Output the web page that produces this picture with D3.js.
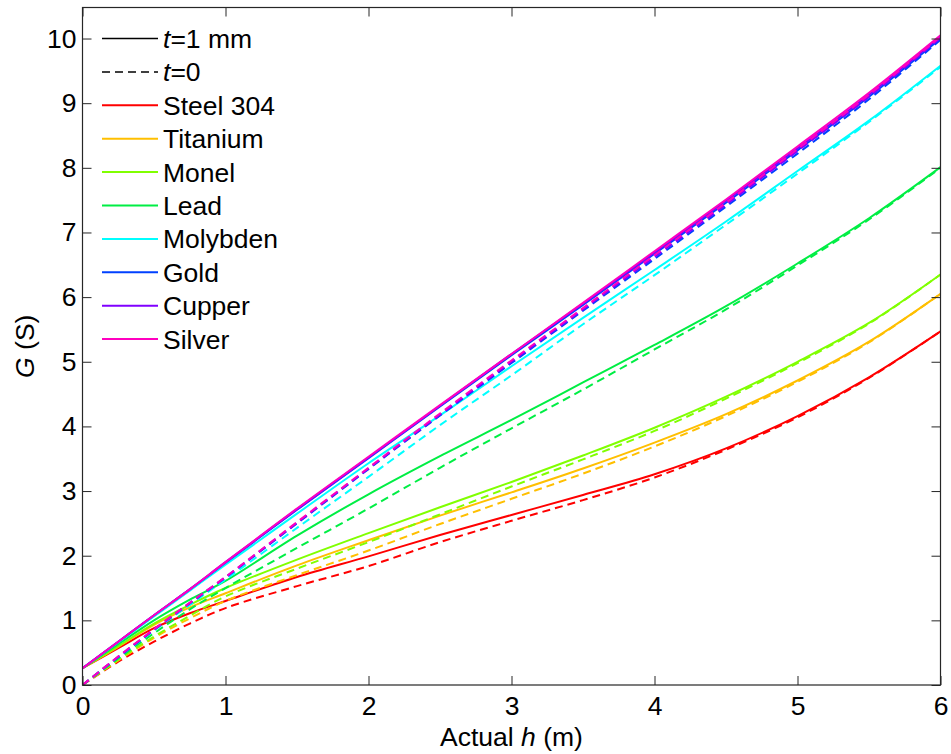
<!DOCTYPE html>
<html>
<head>
  <title>G vs actual h</title>
  <script src="https://d3js.org/d3.v7.min.js"></script>
</head>
<style>
  body { margin: 0; background: #fff; }
  text { font-family: Arial, "Liberation Sans", sans-serif; fill: #000; }
</style>
<body>
  <script>
    const hVals = [0, 0.25, 0.5, 0.75, 1, 1.5, 2, 2.5, 3, 3.5, 4, 4.5, 5, 5.5, 6];

    const materials = ["Steel 304", "Titanium", "Monel", "Lead", "Molybden", "Gold", "Cupper", "Silver"];
    const colors = ["#ff0000", "#ffbf00", "#80ff00", "#00ee44", "#00ffff", "#0040ff", "#8000ff", "#ff00bf"];

    // t = 1 mm (solid)
    const steelSolid   = [0.26, 0.57, 0.88, 1.11, 1.30, 1.67, 1.99, 2.32, 2.63, 2.94, 3.26, 3.66, 4.16, 4.76, 5.47];
    const titanSolid   = [0.26, 0.59, 0.93, 1.20, 1.42, 1.85, 2.24, 2.62, 2.98, 3.35, 3.75, 4.19, 4.71, 5.31, 6.05];
    const monelSolid   = [0.26, 0.60, 0.95, 1.24, 1.50, 1.94, 2.35, 2.75, 3.14, 3.55, 3.98, 4.46, 5.00, 5.60, 6.35];
    const leadSolid    = [0.26, 0.63, 1.00, 1.32, 1.61, 2.31, 2.95, 3.54, 4.10, 4.68, 5.26, 5.86, 6.52, 7.22, 8.01];
    const molySolid    = [0.26, 0.66, 1.06, 1.46, 1.86, 2.65, 3.43, 4.17, 4.93, 5.68, 6.42, 7.17, 7.95, 8.73, 9.58];
    const goldSolid    = [0.26, 0.67, 1.08, 1.48, 1.89, 2.71, 3.51, 4.31, 5.10, 5.88, 6.67, 7.46, 8.27, 9.10, 10.00];
    const cupperSolid  = [0.26, 0.67, 1.08, 1.48, 1.90, 2.72, 3.52, 4.32, 5.12, 5.90, 6.69, 7.49, 8.30, 9.13, 10.03];
    const silverSolid  = [0.26, 0.67, 1.08, 1.48, 1.90, 2.73, 3.53, 4.33, 5.12, 5.91, 6.71, 7.51, 8.33, 9.16, 10.05];

    // t = 0 (dashed)
    const steelDash    = [0, 0.36, 0.67, 0.95, 1.19, 1.53, 1.84, 2.21, 2.54, 2.86, 3.21, 3.64, 4.14, 4.75, 5.47];
    const titanDash    = [0, 0.38, 0.73, 1.03, 1.30, 1.70, 2.08, 2.49, 2.88, 3.27, 3.69, 4.16, 4.69, 5.30, 6.05];
    const monelDash    = [0, 0.39, 0.75, 1.07, 1.37, 1.80, 2.21, 2.64, 3.07, 3.49, 3.93, 4.43, 4.98, 5.59, 6.35];
    const leadDash     = [0, 0.41, 0.80, 1.17, 1.50, 2.12, 2.73, 3.36, 3.97, 4.57, 5.19, 5.81, 6.49, 7.20, 8.00];
    const molyDash     = [0, 0.43, 0.84, 1.24, 1.63, 2.43, 3.22, 4.02, 4.79, 5.58, 6.34, 7.12, 7.91, 8.71, 9.56];
    const goldDash     = [0, 0.43, 0.85, 1.26, 1.66, 2.50, 3.34, 4.17, 4.98, 5.79, 6.59, 7.40, 8.22, 9.06, 9.98];
    const cupperDash   = [0, 0.44, 0.86, 1.27, 1.67, 2.51, 3.35, 4.18, 5.00, 5.81, 6.62, 7.43, 8.26, 9.10, 10.01];
    const silverDash   = [0, 0.44, 0.86, 1.27, 1.67, 2.52, 3.36, 4.20, 5.02, 5.83, 6.65, 7.46, 8.29, 9.13, 10.03];

    const solids = [steelSolid, titanSolid, monelSolid, leadSolid, molySolid, goldSolid, cupperSolid, silverSolid];
    const dashes = [steelDash, titanDash, monelDash, leadDash, molyDash, goldDash, cupperDash, silverDash];

    const xTicks = [0, 1, 2, 3, 4, 5, 6];
    const yTicks = [0, 1, 2, 3, 4, 5, 6, 7, 8, 9, 10];

    const W = 951, H = 754;
    const L = 82.5, R = 940.5, T = 7.5, B = 685;
    const fs = 26.5;

    const svg = d3.select("body").append("svg")
      .attr("width", W)
      .attr("height", H);

    const x = d3.scaleLinear().domain([0, 6]).range([L, R]);
    const y = d3.scaleLinear().domain([0, 10.48]).range([B, T]);

    const line = d3.line()
      .x((d, i) => x(hVals[i]))
      .y(d => y(d))
      .curve(d3.curveCatmullRom.alpha(0.5));

    // curves: dashed + solid for each material, in legend order
    const g = svg.append("g");
    materials.forEach((m, k) => {
      g.append("path")
        .attr("d", line(dashes[k]))
        .attr("fill", "none")
        .attr("stroke", colors[k])
        .attr("stroke-width", 2)
        .attr("stroke-dasharray", "8,5");
      g.append("path")
        .attr("d", line(solids[k]))
        .attr("fill", "none")
        .attr("stroke", colors[k])
        .attr("stroke-width", 2);
    });

    // axes, ticks inward on all sides
    const axCol = "#262626";
    const tl = 9;
    svg.append("g").attr("transform", `translate(0,${B})`)
      .call(d3.axisBottom(x).tickValues(xTicks).tickSize(-tl).tickPadding(11).tickFormat(d3.format("d")))
      .call(a => a.select(".domain").remove());
    svg.append("g").attr("transform", `translate(0,${T})`)
      .call(d3.axisTop(x).tickValues(xTicks).tickSize(-tl).tickFormat(""))
      .call(a => a.select(".domain").remove());
    svg.append("g").attr("transform", `translate(${L},0)`)
      .call(d3.axisLeft(y).tickValues(yTicks).tickSize(-tl).tickPadding(6).tickFormat(d3.format("d")))
      .call(a => a.select(".domain").remove());
    svg.append("g").attr("transform", `translate(${R},0)`)
      .call(d3.axisRight(y).tickValues(yTicks).tickSize(-tl).tickFormat(""))
      .call(a => a.select(".domain").remove());

    svg.selectAll(".tick line").attr("stroke", axCol);
    svg.selectAll(".tick text")
      .attr("font-size", fs)
      .attr("font-family", "Arial, 'Liberation Sans', sans-serif")
      .attr("fill", "#000");

    svg.append("rect")
      .attr("x", L).attr("y", T)
      .attr("width", R - L).attr("height", B - T)
      .attr("fill", "none")
      .attr("stroke", axCol)
      .attr("stroke-width", 1.2);

    // axis labels
    const xl = svg.append("text")
      .attr("x", (L + R) / 2).attr("y", 746)
      .attr("text-anchor", "middle")
      .attr("font-size", fs);
    xl.append("tspan").text("Actual ");
    xl.append("tspan").attr("font-style", "italic").text("h");
    xl.append("tspan").text(" (m)");

    const yl = svg.append("text")
      .attr("transform", `translate(34,${(T + B) / 2}) rotate(-90)`)
      .attr("text-anchor", "middle")
      .attr("font-size", fs);
    yl.append("tspan").attr("font-style", "italic").text("G");
    yl.append("tspan").text(" (S)");

    // legend
    const legX1 = 102, legX2 = 158, legTx = 163, legY0 = 38.5, legDy = 33.4;
    const leg = svg.append("g");
    const legItems = [
      { color: "#000", dash: null, label: ["t", "=1 mm"] },
      { color: "#000", dash: "8,5", label: ["t", "=0"] }
    ].concat(materials.map((m, k) => ({ color: colors[k], dash: null, label: [null, m] })));

    legItems.forEach((it, i) => {
      const yy = legY0 + i * legDy;
      leg.append("line")
        .attr("x1", legX1).attr("x2", legX2)
        .attr("y1", yy).attr("y2", yy)
        .attr("stroke", it.color)
        .attr("stroke-width", it.color === "#000" ? 1.5 : 2)
        .attr("stroke-dasharray", it.dash);
      const t = leg.append("text")
        .attr("x", legTx).attr("y", yy + 9.5)
        .attr("font-size", fs);
      if (it.label[0]) t.append("tspan").attr("font-style", "italic").text(it.label[0]);
      t.append("tspan").text(it.label[1]);
    });
  </script>
</body>
</html>
